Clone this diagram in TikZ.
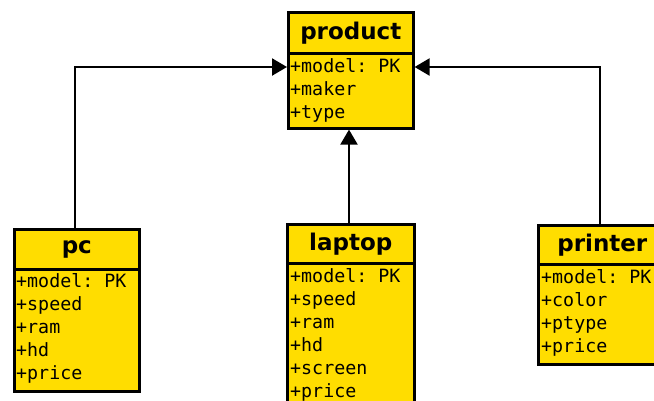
\documentclass[tikz,border=0pt]{standalone}
\usepackage{fontspec}
\setsansfont{DejaVu Sans}
\setmonofont{DejaVu Sans Mono}
\usetikzlibrary{arrows.meta}
\definecolor{umlyellow}{RGB}{255,221,0}
\tikzset{
  classhead/.style={draw=black, fill=umlyellow, line width=2.6pt, anchor=north west,
    inner sep=0pt, font=\sffamily\bfseries\fontsize{23}{26}\selectfont},
  classbody/.style={draw=black, fill=umlyellow, line width=2.6pt, anchor=north west, inner sep=0pt},
  attrs/.style={anchor=north west, align=left, inner sep=0pt,
    font=\ttfamily\fontsize{18.3}{23}\selectfont},
  inherit/.style={draw=black, line width=2.2pt, -{Triangle[length=15pt,width=17pt]}}
}
\begin{document}
\begin{tikzpicture}[x=1pt,y=-1pt]
\useasboundingbox (0,0) rectangle (654,400);
% product
\node[classhead, minimum width=125pt, minimum height=41pt] (product) at (287,11) {product};
\node[classbody, minimum width=125pt, minimum height=75pt] (productBody) at (287,52) {};
\node[attrs] (productAttrs) at (290,58.5) {+model:~PK\\+maker\\+type};
% pc
\node[classhead, minimum width=125pt, minimum height=40pt] (pc) at (13,228) {pc};
\node[classbody, minimum width=125pt, minimum height=122pt] (pcBody) at (13,268) {};
\node[attrs] (pcAttrs) at (16,273.5) {+model:~PK\\+speed\\+ram\\+hd\\+price};
% laptop
\node[classhead, minimum width=127pt, minimum height=39pt] (laptop) at (286,223) {laptop};
\node[classbody, minimum width=127pt, minimum height=150pt] (laptopBody) at (286,262) {};
\node[attrs] (laptopAttrs) at (290,268.5) {+model:~PK\\+speed\\+ram\\+hd\\+screen\\+price};
% printer
\node[classhead, minimum width=128pt, minimum height=39pt] (printer) at (537,224) {printer};
\node[classbody, minimum width=128pt, minimum height=100pt] (printerBody) at (537,263) {};
\node[attrs] (printerAttrs) at (541,269.5) {+model:~PK\\+color\\+ptype\\+price};
% connectors
\draw[inherit] (pc.north -| 75,0) -- (75,67) -- (productBody.west |- 0,67);
\draw[inherit] (laptop.north -| 349,0) -- (productBody.south -| 349,0);
\draw[inherit] (printer.north -| 600,0) -- (600,67) -- (productBody.east |- 0,67);
\end{tikzpicture}
\end{document}
